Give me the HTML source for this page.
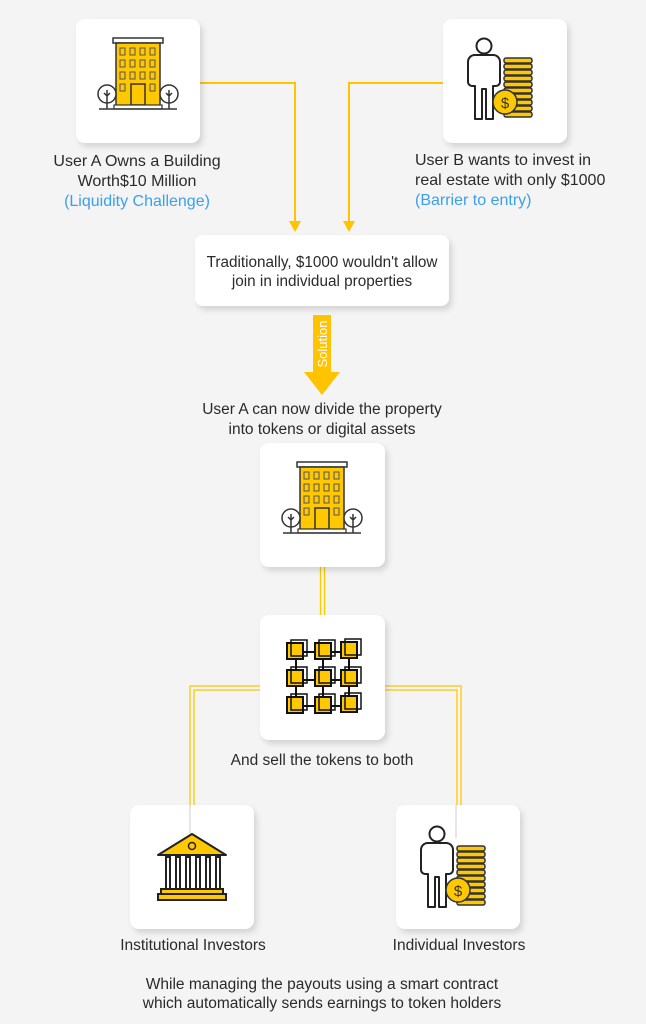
<!DOCTYPE html>
<html><head><meta charset="utf-8"><style>
html,body{margin:0;padding:0;background:#f4f4f4;}
svg{display:block;}
text{font-family:"Liberation Sans",sans-serif;font-size:15.5px;fill:#2a2a2a;}
.c{text-anchor:middle;}
.b{fill:#3aa0ee;}
</style></head><body>
<svg width="646" height="1024" viewBox="0 0 646 1024">
<defs>
<filter id="sh" x="-20%" y="-20%" width="150%" height="150%"><feDropShadow dx="3" dy="4" stdDeviation="3" flood-color="#000" flood-opacity="0.13"/></filter>
<g id="bld">
  <rect x="-25" y="-40" width="50" height="5" fill="#fff" stroke="#333" stroke-width="1.5"/>
  <rect x="-22" y="-35" width="44" height="64" fill="#ffc800" stroke="#333" stroke-width="1.5"/>
  <g fill="none" stroke="#555" stroke-width="1">
   <rect x="-18" y="-30" width="5" height="7"/><rect x="-8" y="-30" width="5" height="7"/><rect x="2" y="-30" width="5" height="7"/><rect x="12" y="-30" width="5" height="7"/>
   <rect x="-18" y="-18" width="5" height="7"/><rect x="-8" y="-18" width="5" height="7"/><rect x="2" y="-18" width="5" height="7"/><rect x="12" y="-18" width="5" height="7"/>
   <rect x="-18" y="-6" width="5" height="7"/><rect x="-8" y="-6" width="5" height="7"/><rect x="2" y="-6" width="5" height="7"/><rect x="12" y="-6" width="5" height="7"/>
   <rect x="-18" y="6" width="5" height="7"/><rect x="12" y="6" width="5" height="7"/>
  </g>
  <rect x="-7" y="6" width="14" height="21" fill="#ffc800" stroke="#333" stroke-width="1.5"/>
  <rect x="-24" y="27" width="48" height="4" fill="#fff" stroke="#333" stroke-width="1.2"/>
  <line x1="-39" y1="31" x2="39" y2="31" stroke="#333" stroke-width="1.5"/>
  <circle cx="-31" cy="16" r="9" fill="#fff" stroke="#333" stroke-width="1.5"/>
  <circle cx="31" cy="16" r="9" fill="#fff" stroke="#333" stroke-width="1.5"/>
  <path d="M-31 12V31M-34 15l3 3 3-3M31 12V31M28 15l3 3 3-3" stroke="#333" stroke-width="1.5" fill="none"/>
</g>
<g id="man">
  <circle cx="-18" cy="-34" r="7.5" fill="#fff" stroke="#222" stroke-width="2"/>
  <path d="M-27 39V6h-3c-2 0-4-2-4-4v-20c0-4 3-7 7-7h18c4 0 7 3 7 7v20c0 2-2 4-4 4h-3v33h-7V9h-4v30z" fill="#fff" stroke="#222" stroke-width="2" stroke-linejoin="round"/>
  <g fill="#ffc800" stroke="#333" stroke-width="1.5">
   <rect x="2" y="-22" width="28" height="5" rx="2"/><rect x="2" y="-16" width="28" height="5" rx="2"/><rect x="2" y="-10" width="28" height="5" rx="2"/><rect x="2" y="-4" width="28" height="5" rx="2"/><rect x="2" y="2" width="28" height="5" rx="2"/><rect x="2" y="8" width="28" height="5" rx="2"/><rect x="2" y="14" width="28" height="5" rx="2"/><rect x="2" y="20" width="28" height="5" rx="2"/><rect x="2" y="26" width="28" height="5" rx="2"/><rect x="2" y="32" width="28" height="5" rx="2"/>
   <circle cx="3" cy="22" r="12"/>
  </g>
  <text x="3" y="28" class="c" style="font-size:15px;fill:#333">$</text>
</g>
</defs>

<g stroke="#ffc300" stroke-width="2" fill="none">
 <path d="M200 83H295V222"/><path d="M443 83H349V222"/>
</g>
<path d="M289 221h12l-6 11z M343 221h12l-6 11z" fill="#ffc300"/>

<g stroke="#ffc800" stroke-width="1.3" fill="none">
 <path d="M320.5 567V615M324.5 567V615"/>
 <path d="M260 686H190V805M260 690H194V805"/>
 <path d="M385 686H461V805M385 690H457V805"/>
</g>

<g fill="#fff" filter="url(#sh)">
 <rect x="76" y="19" width="124" height="124" rx="9"/>
 <rect x="443" y="19" width="124" height="124" rx="9"/>
 <rect x="195" y="235" width="254" height="71" rx="8"/>
 <rect x="260" y="443" width="125" height="124" rx="9"/>
 <rect x="260" y="615" width="125" height="125" rx="9"/>
 <rect x="130" y="805" width="124" height="124" rx="9"/>
 <rect x="396" y="805" width="124" height="124" rx="9"/>
</g>
<line x1="190" y1="805" x2="190" y2="855" stroke="#ccc" stroke-width="1"/>
<line x1="456" y1="805" x2="456" y2="838" stroke="#ccc" stroke-width="1"/>

<use href="#bld" x="138" y="78"/>
<use href="#bld" x="322" y="502"/>
<use href="#man" x="502" y="80"/>
<use href="#man" x="455" y="868"/>

<g stroke="#111" stroke-width="2">
 <path d="M294 652H350M294 680H350M294 706H350M296 652V706M323 652V706M349 652V706"/>
 <g fill="#ffc800">
  <rect x="287" y="643" width="16" height="16"/><rect x="315" y="643" width="16" height="16"/><rect x="341" y="642" width="16" height="16"/>
  <rect x="287" y="670" width="16" height="16"/><rect x="315" y="670" width="16" height="16"/><rect x="341" y="670" width="16" height="16"/>
  <rect x="287" y="697" width="16" height="16"/><rect x="315" y="697" width="16" height="16"/><rect x="341" y="696" width="16" height="16"/>
 </g>
 <g fill="none" stroke-width="1.5">
  <rect x="291" y="640" width="16" height="16"/><rect x="319" y="640" width="16" height="16"/><rect x="345" y="639" width="16" height="16"/>
  <rect x="291" y="667" width="16" height="16"/><rect x="319" y="667" width="16" height="16"/><rect x="345" y="667" width="16" height="16"/>
  <rect x="291" y="694" width="16" height="16"/><rect x="319" y="694" width="16" height="16"/><rect x="345" y="693" width="16" height="16"/>
 </g>
</g>

<g stroke="#222" stroke-width="2">
 <path d="M158 855L192 834L226 855Z" fill="#ffc800" stroke-linejoin="round"/>
 <circle cx="192" cy="846" r="3.5" fill="#ffc800" stroke-width="1.5"/>
 <g fill="#fff"><rect x="166" y="857" width="4" height="32"/><rect x="176" y="857" width="4" height="32"/><rect x="186" y="857" width="4" height="32"/><rect x="196" y="857" width="4" height="32"/><rect x="206" y="857" width="4" height="32"/><rect x="216" y="857" width="4" height="32"/></g>
 <rect x="161" y="889" width="62" height="5" fill="#ffc800"/>
 <rect x="158" y="894" width="68" height="6" fill="#ffc800"/>
</g>

<path d="M313 315H331V372H340L322 395L304 372H313Z" fill="#ffc300"/>
<text transform="translate(327 344) rotate(-90)" class="c" style="font-size:13px;fill:#fff">Solution</text>

<text x="137" y="166" class="c" style="font-size:16px">User A Owns a Building</text>
<text x="137" y="186" class="c" style="font-size:16px">Worth$10 Million</text>
<text x="137" y="206" class="b c" style="font-size:16px">(Liquidity Challenge)</text>
<text x="415" y="165" style="font-size:16px">User B wants to invest in</text>
<text x="415" y="185" style="font-size:16px">real estate with only $1000</text>
<text x="415" y="205" class="b" style="font-size:16px">(Barrier to entry)</text>
<text x="322" y="267" class="c" style="font-size:15.3px">Traditionally, $1000 wouldn't allow</text>
<text x="322" y="286" class="c" style="font-size:15.3px">join in individual properties</text>
<text x="322" y="414" class="c">User A can now divide the property</text>
<text x="322" y="434" class="c">into tokens or digital assets</text>
<text x="322" y="765" class="c">And sell the tokens to both</text>
<text x="193" y="950" class="c">Institutional Investors</text>
<text x="459" y="950" class="c">Individual Investors</text>
<text x="322" y="989" class="c">While managing the payouts using a smart contract</text>
<text x="322" y="1008" class="c">which automatically sends earnings to token holders</text>
</svg>
</body></html>
